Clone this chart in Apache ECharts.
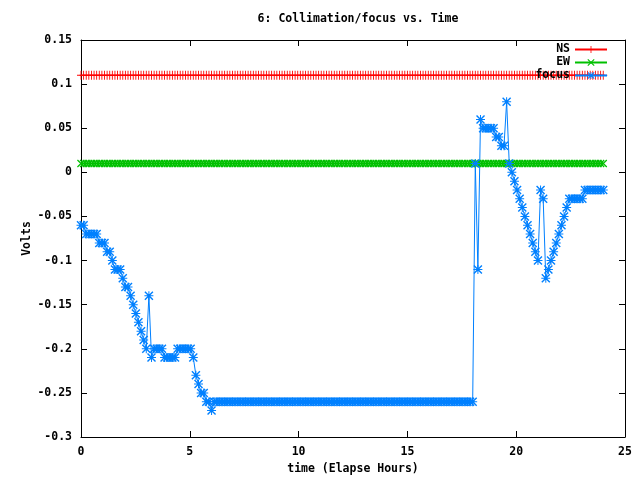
<!DOCTYPE html>
<html>
<head>
<meta charset="utf-8">
<script src="https://cdn.jsdelivr.net/npm/echarts@6/dist/echarts.min.js"></script>
<style>
html, body { margin: 0; padding: 0; background: #fff; }
#main { width: 640px; height: 480px; }
</style>
</head>
<body>
<div id="main"></div>
<script>
// sampling grid: one reading every 0.12 hour, 0 .. 24 h
var step = 0.12;
var hours = [];
for (var i = 0; i <= 200; i++) hours.push(+(i * step).toFixed(2));

var ns = [
	0.11,0.11,0.11,0.11,0.11,0.11,0.11,0.11,0.11,0.11,0.11,0.11,0.11,0.11,0.11,0.11,0.11,0.11,0.11,0.11,
	0.11,0.11,0.11,0.11,0.11,0.11,0.11,0.11,0.11,0.11,0.11,0.11,0.11,0.11,0.11,0.11,0.11,0.11,0.11,0.11,
	0.11,0.11,0.11,0.11,0.11,0.11,0.11,0.11,0.11,0.11,0.11,0.11,0.11,0.11,0.11,0.11,0.11,0.11,0.11,0.11,
	0.11,0.11,0.11,0.11,0.11,0.11,0.11,0.11,0.11,0.11,0.11,0.11,0.11,0.11,0.11,0.11,0.11,0.11,0.11,0.11,
	0.11,0.11,0.11,0.11,0.11,0.11,0.11,0.11,0.11,0.11,0.11,0.11,0.11,0.11,0.11,0.11,0.11,0.11,0.11,0.11,
	0.11,0.11,0.11,0.11,0.11,0.11,0.11,0.11,0.11,0.11,0.11,0.11,0.11,0.11,0.11,0.11,0.11,0.11,0.11,0.11,
	0.11,0.11,0.11,0.11,0.11,0.11,0.11,0.11,0.11,0.11,0.11,0.11,0.11,0.11,0.11,0.11,0.11,0.11,0.11,0.11,
	0.11,0.11,0.11,0.11,0.11,0.11,0.11,0.11,0.11,0.11,0.11,0.11,0.11,0.11,0.11,0.11,0.11,0.11,0.11,0.11,
	0.11,0.11,0.11,0.11,0.11,0.11,0.11,0.11,0.11,0.11,0.11,0.11,0.11,0.11,0.11,0.11,0.11,0.11,0.11,0.11,
	0.11,0.11,0.11,0.11,0.11,0.11,0.11,0.11,0.11,0.11,0.11,0.11,0.11,0.11,0.11,0.11,0.11,0.11,0.11,0.11,
	0.11
];
var ew = [
	0.01,0.01,0.01,0.01,0.01,0.01,0.01,0.01,0.01,0.01,0.01,0.01,0.01,0.01,0.01,0.01,0.01,0.01,0.01,0.01,
	0.01,0.01,0.01,0.01,0.01,0.01,0.01,0.01,0.01,0.01,0.01,0.01,0.01,0.01,0.01,0.01,0.01,0.01,0.01,0.01,
	0.01,0.01,0.01,0.01,0.01,0.01,0.01,0.01,0.01,0.01,0.01,0.01,0.01,0.01,0.01,0.01,0.01,0.01,0.01,0.01,
	0.01,0.01,0.01,0.01,0.01,0.01,0.01,0.01,0.01,0.01,0.01,0.01,0.01,0.01,0.01,0.01,0.01,0.01,0.01,0.01,
	0.01,0.01,0.01,0.01,0.01,0.01,0.01,0.01,0.01,0.01,0.01,0.01,0.01,0.01,0.01,0.01,0.01,0.01,0.01,0.01,
	0.01,0.01,0.01,0.01,0.01,0.01,0.01,0.01,0.01,0.01,0.01,0.01,0.01,0.01,0.01,0.01,0.01,0.01,0.01,0.01,
	0.01,0.01,0.01,0.01,0.01,0.01,0.01,0.01,0.01,0.01,0.01,0.01,0.01,0.01,0.01,0.01,0.01,0.01,0.01,0.01,
	0.01,0.01,0.01,0.01,0.01,0.01,0.01,0.01,0.01,0.01,0.01,0.01,0.01,0.01,0.01,0.01,0.01,0.01,0.01,0.01,
	0.01,0.01,0.01,0.01,0.01,0.01,0.01,0.01,0.01,0.01,0.01,0.01,0.01,0.01,0.01,0.01,0.01,0.01,0.01,0.01,
	0.01,0.01,0.01,0.01,0.01,0.01,0.01,0.01,0.01,0.01,0.01,0.01,0.01,0.01,0.01,0.01,0.01,0.01,0.01,0.01,
	0.01
];
var focus = [
	-0.06,-0.06,-0.07,-0.07,-0.07,-0.07,-0.07,-0.08,-0.08,-0.08,-0.09,-0.09,-0.10,-0.11,-0.11,-0.11,-0.12,-0.13,-0.13,-0.14,
	-0.15,-0.16,-0.17,-0.18,-0.19,-0.20,-0.14,-0.21,-0.20,-0.20,-0.20,-0.20,-0.21,-0.21,-0.21,-0.21,-0.21,-0.20,-0.20,-0.20,
	-0.20,-0.20,-0.20,-0.21,-0.23,-0.24,-0.25,-0.25,-0.26,-0.26,-0.27,-0.26,-0.26,-0.26,-0.26,-0.26,-0.26,-0.26,-0.26,-0.26,
	-0.26,-0.26,-0.26,-0.26,-0.26,-0.26,-0.26,-0.26,-0.26,-0.26,-0.26,-0.26,-0.26,-0.26,-0.26,-0.26,-0.26,-0.26,-0.26,-0.26,
	-0.26,-0.26,-0.26,-0.26,-0.26,-0.26,-0.26,-0.26,-0.26,-0.26,-0.26,-0.26,-0.26,-0.26,-0.26,-0.26,-0.26,-0.26,-0.26,-0.26,
	-0.26,-0.26,-0.26,-0.26,-0.26,-0.26,-0.26,-0.26,-0.26,-0.26,-0.26,-0.26,-0.26,-0.26,-0.26,-0.26,-0.26,-0.26,-0.26,-0.26,
	-0.26,-0.26,-0.26,-0.26,-0.26,-0.26,-0.26,-0.26,-0.26,-0.26,-0.26,-0.26,-0.26,-0.26,-0.26,-0.26,-0.26,-0.26,-0.26,-0.26,
	-0.26,-0.26,-0.26,-0.26,-0.26,-0.26,-0.26,-0.26,-0.26,-0.26,-0.26,0.01,-0.11,0.06,0.05,0.05,0.05,0.05,0.05,0.04,
	0.04,0.03,0.03,0.08,0.01,0.00,-0.01,-0.02,-0.03,-0.04,-0.05,-0.06,-0.07,-0.08,-0.09,-0.10,-0.02,-0.03,-0.12,-0.11,
	-0.10,-0.09,-0.08,-0.07,-0.06,-0.05,-0.04,-0.03,-0.03,-0.03,-0.03,-0.03,-0.03,-0.02,-0.02,-0.02,-0.02,-0.02,-0.02,-0.02,
	-0.02
];

var xTicks = [0, 25, 5];
var yTicks = [-0.3, 0.15, 0.05];

var plusPath = 'path://M4,0H5V9H4ZM0,4H9V5H0Z';
var crossPath = 'path://M0,1L1,0L9,8L8,9ZM8,0L9,1L1,9L0,8Z';
var starPath = 'path://M4,0H5V9H4ZM0,4H9V5H0ZM0,1L1,0L9,8L8,9ZM8,0L9,1L1,9L0,8Z';

var pairs = function(vals){
	var out = [];
	for (var i = 0; i < vals.length; i++) out.push([hours[i], vals[i]]);
	return out;
};

var font = 'DejaVu Sans Mono';
var txt = { fontFamily: font, fontSize: 11.5, fontWeight: 'bold', color: '#000' };

var myChart = echarts.init(document.getElementById('main'));
var frameAxis = function(pos, isX){
	var a = {
		type: 'value',
		position: pos,
		min: isX ? xTicks[0] : yTicks[0],
		max: isX ? xTicks[1] : yTicks[1],
		interval: isX ? xTicks[2] : yTicks[2],
		axisLine: { show: true, onZero: false, lineStyle: { color: '#000', width: 1 } },
		axisTick: { show: true, inside: true, length: 6, lineStyle: { color: '#000' } },
		axisLabel: { show: false },
		splitLine: { show: false }
	};
	return a;
};

var xMain = frameAxis('bottom', true);
xMain.axisLabel = { show: true, margin: 9, fontFamily: font, fontSize: 11.5, fontWeight: 'bold', color: '#000' };
xMain.name = 'time (Elapse Hours)';
xMain.nameLocation = 'middle';
xMain.nameGap = 26;
xMain.nameMoveOverlap = false;
xMain.nameTextStyle = txt;

var yMain = frameAxis('left', false);
yMain.axisLabel = {
	show: true, margin: 9, fontFamily: font, fontSize: 11.5, fontWeight: 'bold', color: '#000',
	formatter: function(v){ return String(parseFloat(v.toFixed(2))); }
};
yMain.name = 'Volts';
yMain.nameLocation = 'middle';
yMain.nameGap = 48;
yMain.nameMoveOverlap = false;
yMain.nameRotate = 90;
yMain.nameTextStyle = txt;

var option = {
	animation: false,
	backgroundColor: '#fff',
	title: {
		text: '6: Collimation/focus vs. Time',
		left: 353,
		top: 8,
		textAlign: 'center',
		textStyle: txt
	},
	legend: {
		orient: 'vertical',
		right: 27,
		top: 38,
		align: 'right',
		itemWidth: 32,
		itemHeight: 9,
		itemGap: 0,
		textStyle: { fontFamily: font, fontSize: 11.5, fontWeight: 'bold', color: '#000', lineHeight: 13 },
		data: ['NS', 'EW', 'focus']
	},
	grid: { left: 81, right: 15, top: 40, bottom: 43 },
	xAxis: [xMain, frameAxis('top', true)],
	yAxis: [yMain, frameAxis('right', false)],
	series: [
		{
			name: 'NS', type: 'line', data: pairs(ns),
			symbol: plusPath, symbolSize: [8, 9], showAllSymbol: true,
			itemStyle: { color: '#ff0000' },
			lineStyle: { color: '#ff0000', width: 1 }
		},
		{
			name: 'EW', type: 'line', data: pairs(ew),
			symbol: crossPath, symbolSize: 8, showAllSymbol: true,
			itemStyle: { color: '#00c000' },
			lineStyle: { color: '#00c000', width: 1 }
		},
		{
			name: 'focus', type: 'line', data: pairs(focus),
			symbol: starPath, symbolSize: 9, showAllSymbol: true,
			itemStyle: { color: '#0080ff' },
			lineStyle: { color: '#0080ff', width: 1 }
		}
	]
};
myChart.setOption(option);
</script>
</body>
</html>
